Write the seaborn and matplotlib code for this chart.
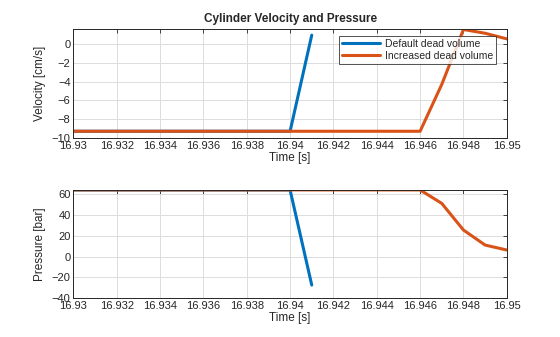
import matplotlib
matplotlib.use("Agg")
import matplotlib.pyplot as plt
import seaborn as sns
import pandas as pd

# ---- data ----
default_time = [16.930, 16.940, 16.941]
default_velocity = [-9.3, -9.3, 0.95]
default_pressure = [64.3, 64.3, -27.5]

increased_time = [16.930, 16.946, 16.947, 16.948, 16.949, 16.950]
increased_velocity = [-9.3, -9.3, -4.3, 1.55, 1.15, 0.55]
increased_pressure = [64.3, 64.3, 51.3, 25.6, 11.1, 6.3]

series_names = ["Default dead volume", "Increased dead volume"]
x_ticks = [16.93, 16.932, 16.934, 16.936, 16.938, 16.94, 16.942, 16.944, 16.946, 16.948, 16.95]
x_tick_labels = ["16.93", "16.932", "16.934", "16.936", "16.938", "16.94",
                 "16.942", "16.944", "16.946", "16.948", "16.95"]
vel_ticks = [-10, -8, -6, -4, -2, 0]
pres_ticks = [-40, -20, 0, 20, 40, 60]

df = pd.concat([
    pd.DataFrame({"t": default_time, "v": default_velocity, "p": default_pressure,
                  "s": series_names[0]}),
    pd.DataFrame({"t": increased_time, "v": increased_velocity, "p": increased_pressure,
                  "s": series_names[1]}),
], ignore_index=True)

sns.set_style("white")
plt.rcParams["font.family"] = ["Liberation Sans", "DejaVu Sans"]
palette = {series_names[0]: "#0072BD", series_names[1]: "#D95319"}
axcol = "#262626"

fig = plt.figure(figsize=(5.6, 3.37), dpi=100)
ax1 = fig.add_axes([0.131, 0.591, 0.774, 0.322])
ax2 = fig.add_axes([0.131, 0.1157, 0.774, 0.321])

sns.lineplot(data=df, x="t", y="v", hue="s", palette=palette, ax=ax1,
             linewidth=2.2, sort=False, estimator=None)
sns.lineplot(data=df, x="t", y="p", hue="s", palette=palette, ax=ax2,
             linewidth=2.2, sort=False, estimator=None, legend=False)

for ax, yt, ylim, ylabel in [(ax1, vel_ticks, (-10, 1.57), "Velocity [cm/s]"),
                             (ax2, pres_ticks, (-40, 64.4), "Pressure [bar]")]:
    ax.set_xlim(16.93, 16.95)
    ax.set_ylim(*ylim)
    ax.set_xticks(x_ticks)
    ax.set_xticklabels(x_tick_labels)
    ax.set_yticks(yt)
    ax.grid(True, color="#dcdcdc", linewidth=0.7)
    ax.set_axisbelow(True)
    ax.tick_params(direction="in", length=3, width=0.6, colors=axcol,
                   labelsize=8, top=True, right=True, pad=2,
                   labelcolor=axcol)
    for sp in ax.spines.values():
        sp.set_visible(True)
        sp.set_color(axcol)
        sp.set_linewidth(0.7)
    ax.set_xlabel("Time [s]", fontsize=8.5, color=axcol, labelpad=1)
    ax.set_ylabel(ylabel, fontsize=8.5, color=axcol, labelpad=4)

ax1.set_title("Cylinder Velocity and Pressure", fontsize=8.5, fontweight="bold",
              color=axcol, pad=5)
leg = ax1.legend(loc="upper right", bbox_to_anchor=(0.975, 0.94),
                 fontsize=7.5, frameon=True, fancybox=False,
                 edgecolor=axcol, handlelength=3.7, borderpad=0.3,
                 labelspacing=0.2, handletextpad=0.4, borderaxespad=0.0)
leg.get_frame().set_linewidth(0.7)
leg.set_title(None)

fig.savefig("out.png", dpi=100)
